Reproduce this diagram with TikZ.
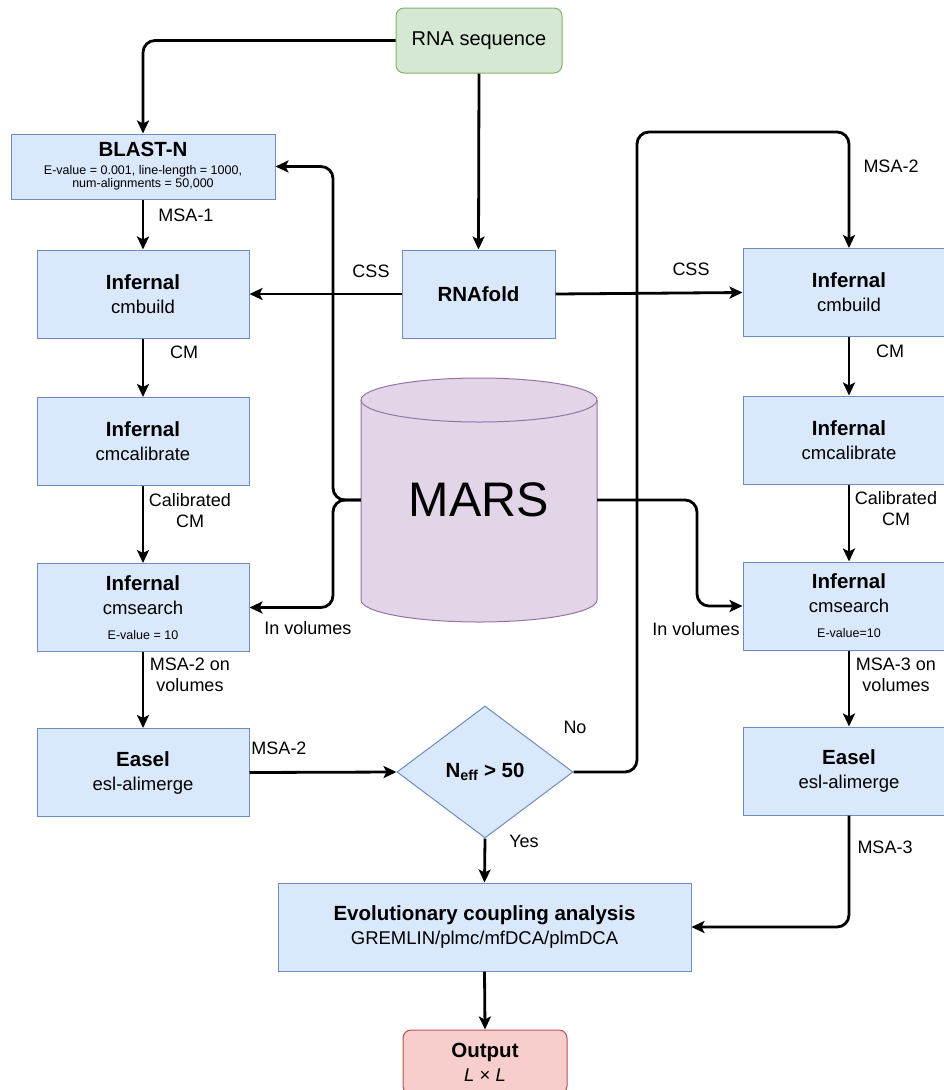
\documentclass[tikz,border=0pt]{standalone}
\usepackage{fontspec}
\setmainfont{Liberation Sans}
\usetikzlibrary{shapes.geometric,arrows.meta}
\definecolor{bfill}{HTML}{DAE8FC}
\definecolor{bstroke}{HTML}{6C8EBF}
\definecolor{gfill}{HTML}{D5E8D4}
\definecolor{gstroke}{HTML}{82B366}
\definecolor{pfill}{HTML}{E1D5E7}
\definecolor{pstroke}{HTML}{9673A6}
\definecolor{rfill}{HTML}{F8CECC}
\definecolor{rstroke}{HTML}{B85450}
\newcommand{\hd}[1]{{\fontsize{20.5}{24}\selectfont\bfseries #1}}
\newcommand{\smalltxt}[1]{{\fontsize{12.5}{14}\selectfont #1}}
\begin{document}
\begin{tikzpicture}[x=1pt,y=-1pt,
 every node/.style={font=\fontsize{18.5}{24}\selectfont},
 box/.style={draw=bstroke,fill=bfill,line width=1pt,minimum width=212pt,minimum height=88pt,align=center,inner sep=0pt},
 conn/.style={line width=2.8pt,-{Stealth[length=13pt,width=12pt,inset=3pt]},rounded corners=12pt},
 lbl/.style={font=\fontsize{18}{21}\selectfont,align=center,inner sep=0pt}]
\useasboundingbox (0,0) rectangle (944,1090);
\clip (0,0) rectangle (944,1090);

% cylinder
\draw[fill=pfill,draw=pstroke,line width=1pt] (361,400) -- (361,600)
  arc[start angle=180,end angle=360,x radius=118pt,y radius=22pt] -- (597,400)
  arc[start angle=0,end angle=180,x radius=118pt,y radius=22pt] -- cycle;
\draw[draw=pstroke,line width=1pt] (361,400) arc[start angle=180,end angle=360,x radius=118pt,y radius=22pt];
\node[minimum width=236pt,minimum height=200pt,inner sep=0pt,font=\fontsize{48.5}{58}\selectfont] (mars) at (479,500) {MARS};

\node[draw=gstroke,fill=gfill,rounded corners=8pt,line width=1pt,minimum width=166pt,minimum height=65pt,inner sep=0pt,font=\fontsize{20}{24}\selectfont] (rna) at (479,40.5) {RNA sequence};
\node[box,minimum width=264pt,minimum height=65pt,font=\fontsize{12.5}{13}\selectfont] (blast) at (143,166.5) {\hd{BLAST-N}\\[5pt]E-value = 0.001, line-length = 1000,\\num-alignments = 50,000};
\node[box] (lbuild) at (143,294) {\hd{Infernal}\\cmbuild};
\node[box] (lcal) at (143,441.5) {\hd{Infernal}\\cmcalibrate};
\node[box] (lsearch) at (143,607.5) {\hd{Infernal}\\cmsearch\\[1pt]\smalltxt{E-value = 10}};
\node[box] (leasel) at (143,772.5) {\hd{Easel}\\esl-alimerge};
\node[box,minimum width=153pt] (fold) at (478.5,294) {\hd{RNAfold}};
\node[box] (rbuild) at (849,292.5) {\hd{Infernal}\\cmbuild};
\node[box] (rcal) at (849,440) {\hd{Infernal}\\cmcalibrate};
\node[box] (rsearch) at (849,606) {\hd{Infernal}\\cmsearch\\[1pt]\smalltxt{E-value=10}};
\node[box] (reasel) at (849,771) {\hd{Easel}\\esl-alimerge};
\node[diamond,draw=bstroke,fill=bfill,line width=1pt,minimum width=176pt,minimum height=132pt,inner sep=0pt,aspect=1.333] (dec) at (485,772) {\hd{N\textsubscript{eff} > 50}};
\node[box,minimum width=413pt] (eca) at (484.5,927) {\hd{Evolutionary coupling analysis}\\GREMLIN/plmc/mfDCA/plmDCA};
\node[draw=rstroke,fill=rfill,rounded corners=8pt,line width=1pt,minimum width=164pt,minimum height=64pt,align=center,inner sep=0pt] (out) at (485,1062) {\hd{Output}\\\textit{L} × \textit{L}};

% connectors
\draw[conn] (rna.west) -- (143,40.5) -- (blast.north);
\draw[conn] (rna.south) -- (fold.north);
\draw[conn] (blast.south) -- (lbuild.north);
\draw[conn] (fold.west) -- (lbuild.east);
\draw[conn] (fold.east) -- (rbuild.west);
\draw[conn] (lbuild.south) -- (lcal.north);
\draw[conn] (lcal.south) -- (lsearch.north);
\draw[conn] (lsearch.south) -- (leasel.north);
\draw[conn] (rbuild.south) -- (rcal.north);
\draw[conn] (rcal.south) -- (rsearch.north);
\draw[conn] (rsearch.south) -- (reasel.north);
\draw[conn] (leasel.east) -- (dec.west);
\draw[conn] (dec.south) -- (eca.north);
\draw[conn] (dec.east) -- (637,772) -- (637,132) -- (849,132) -- (rbuild.north);
\draw[conn] (reasel.south) -- (849,927) -- (eca.east);
\draw[conn] (eca.south) -- (out.north);
\draw[conn] (mars.west) -- (333,500) -- (333,166.5) -- (blast.east);
\draw[conn] (mars.west) -- (333,500) -- (333,607.5) -- (lsearch.east);
\draw[conn] (mars.east) -- (697,500) -- (697,606) -- (rsearch.west);

% labels
\node[lbl] (l1) at (186,215) {MSA-1};
\node[lbl] (l2) at (371,271) {CSS};
\node[lbl] (l3) at (691,269) {CSS};
\node[lbl] (l4) at (184,352) {CM};
\node[lbl] (l5) at (190,511) {Calibrated\\CM};
\node[lbl] (l6) at (308,628) {In volumes};
\node[lbl] (l7) at (190,675) {MSA-2 on\\volumes};
\node[lbl] (l8) at (279,748) {MSA-2};
\node[lbl] (l9) at (575,727) {No};
\node[lbl] (l10) at (524,841) {Yes};
\node[lbl] (l11) at (891,166) {MSA-2};
\node[lbl] (l12) at (890,351) {CM};
\node[lbl] (l13) at (896,509) {Calibrated\\CM};
\node[lbl] (l14) at (696,629) {In volumes};
\node[lbl] (l15) at (896,675) {MSA-3 on\\volumes};
\node[lbl] (l16) at (885,847) {MSA-3};
\end{tikzpicture}
\end{document}
